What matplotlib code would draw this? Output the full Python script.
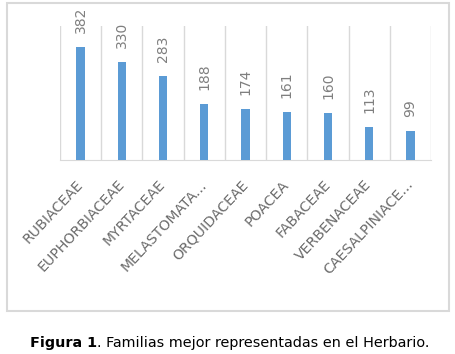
import matplotlib
matplotlib.use('Agg')
import matplotlib.pyplot as plt
from matplotlib.patches import Rectangle

# datos
familias = ['RUBIACEAE', 'EUPHORBIACEAE', 'MYRTACEAE', 'MELASTOMATA...',
            'ORQUIDACEAE', 'POACEA', 'FABACEAE', 'VERBENACEAE',
            'CAESALPINIACE...']
valores = [382, 330, 283, 188, 174, 161, 160, 113, 99]

W, H = 456, 354
fig = plt.figure(figsize=(W / 100, H / 100), dpi=100)

# marco exterior del grafico
fig.patches.append(Rectangle((7 / W, 1 - 311 / H), 442 / W, 308 / H,
                             transform=fig.transFigure, fill=False,
                             edgecolor='#d9d9d9', linewidth=1.5))

ax = fig.add_axes([60 / W, 1 - 160 / H, 371 / W, 134 / H])
x = list(range(len(valores)))
barras = ax.bar(x, valores, width=0.2, color='#5b9bd5', zorder=3)

ax.set_xlim(-0.5, len(valores) - 0.5)
ax.set_ylim(0, 453)

# lineas verticales entre categorias
for i in range(len(valores) + 1):
    ax.axvline(i - 0.5, color='#d9d9d9', linewidth=1, zorder=1)

for s in ['top', 'left', 'right']:
    ax.spines[s].set_visible(False)
ax.spines['bottom'].set_color('#d9d9d9')
ax.set_yticks([])
ax.set_xticks(x)
ax.set_xticklabels(familias, rotation=47, ha='right', va='center',
                   rotation_mode='anchor', fontsize=10.2, color='#6b6b6b')
ax.tick_params(axis='x', length=0, pad=16)

for xi, v in zip(x, valores):
    ax.annotate(str(v), (xi, v), xytext=(0, 10), textcoords='offset points',
                rotation=90, ha='center', va='bottom', fontsize=10,
                color='#7f7f7f')

# pie de figura
t1 = fig.text(30 / W, 1 - 343 / H, 'Figura 1', fontsize=10.4, fontweight='bold',
              va='center', ha='left')
fig.canvas.draw()
bb = t1.get_window_extent()
fig.text(bb.x1 / W, 1 - 343 / H, '. Familias mejor representadas en el Herbario.',
         fontsize=10.4, va='center', ha='left')

fig.savefig('out.png', dpi=100)
